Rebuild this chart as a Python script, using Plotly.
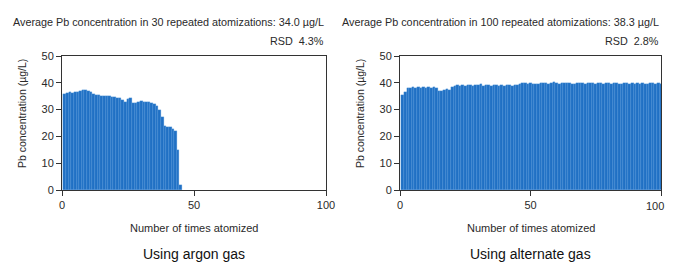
import plotly.graph_objects as go

# ---- data ----
argon_runs = list(range(1, 46))
argon_pb = [36.0, 36.3, 36.5, 36.3, 36.4, 36.5, 37.0, 37.4, 37.3, 36.8,
            36.5, 35.8, 35.6, 35.3, 35.1, 35.0, 35.2, 34.9, 34.8, 34.8,
            34.3, 34.2, 33.5, 33.0, 34.0, 34.2, 32.5, 32.3, 33.0, 33.1,
            33.0, 32.9, 33.0, 32.6, 32.0, 31.5, 29.8, 27.4, 24.0, 23.4,
            23.5, 22.8, 22.0, 15.0, 2.0]

alt_runs = list(range(1, 101))
alt_pb = [35.5, 36.5, 38.0, 38.1, 38.3, 38.0, 38.4, 38.2, 38.5, 38.1,
          38.3, 38.0, 38.4, 38.2, 37.0, 37.1, 37.2, 37.6, 37.5, 38.5,
          38.8, 39.0, 38.7, 39.2, 38.9, 39.0, 39.3, 38.8, 39.1, 39.0,
          39.4, 38.9, 39.2, 39.0, 38.8, 39.1, 39.3, 38.9, 39.0, 38.8,
          39.1, 39.0, 38.7, 39.0, 39.2, 39.6, 39.8, 40.0, 39.7, 39.9,
          39.6, 39.4, 39.7, 39.9, 40.1, 39.8, 39.6, 40.0, 40.2, 39.9,
          39.7, 40.0, 39.8, 39.9, 40.1, 39.7, 39.6, 39.9, 39.8, 40.0,
          39.7, 39.9, 40.1, 39.8, 39.6, 39.9, 40.0, 39.7, 39.8, 39.9,
          39.6, 39.8, 40.0, 39.7, 39.5, 39.8, 39.9, 39.6, 39.8, 39.7,
          39.9, 39.6, 39.8, 39.7, 39.5, 39.8, 39.9, 39.7, 39.8, 39.6]

x_ticks = [0, 50, 100]
x_ticktext = ["0", "50", "100"]
y_ticks = [0, 10, 20, 30, 40, 50]

left_title = "Average Pb concentration in 30 repeated atomizations: 34.0 µg/L"
left_rsd = "RSD  4.3%"
right_title = "Average Pb concentration in 100 repeated atomizations: 38.3 µg/L"
right_rsd = "RSD  2.8%"
x_title = "Number of times atomized"
y_title = "Pb concentration (µg/L)"
left_caption = "Using argon gas"
right_caption = "Using alternate gas"

# ---- layout helpers ----
# the page body has an 8 px margin; positions below are window pixels
OFF = 8
W, H = 674 - OFF, 270 - 2 * OFF
def px(x):
    return (x - OFF) / W
def py(y):
    return 1 - (y - OFF) / H

FONT = "Liberation Sans, Arial, sans-serif"
TXT = "#2a2a2a"
BAR = "#2070c4"
EDGE = "#5c9fe0"

fig = go.Figure()
fig.add_trace(go.Bar(x=argon_runs, y=argon_pb, width=1, xaxis="x", yaxis="y",
                     marker=dict(color=BAR, line=dict(color=EDGE, width=0.3)),
                     showlegend=False))
fig.add_trace(go.Bar(x=alt_runs, y=alt_pb, width=1, xaxis="x2", yaxis="y2",
                     marker=dict(color=BAR, line=dict(color=EDGE, width=0.3)),
                     showlegend=False))

x0L, x1L = 62, 326
x0R, x1R = 400, 661
yT, yB = 56, 190

ax_common = dict(showline=True, linecolor="#333333", linewidth=1, mirror=True,
                 ticks="outside", ticklen=5, tickcolor="#333333", showgrid=False,
                 zeroline=False, automargin=False, ticklabeloverflow="allow",
                 tickfont=dict(family=FONT, size=11, color=TXT))

fig.update_layout(
    width=W, height=H,
    margin=dict(l=0, r=0, t=0, b=0, pad=0, autoexpand=False),
    paper_bgcolor="white", plot_bgcolor="white",
    bargap=0,
    font=dict(family=FONT, size=11, color=TXT),
    xaxis=dict(domain=[px(x0L), px(x1L)], range=[0, 100], tickvals=x_ticks,
               ticktext=x_ticktext, anchor="y", **ax_common),
    yaxis=dict(domain=[py(yB), py(yT)], range=[0, 50], tickvals=y_ticks,
               anchor="x", **ax_common),
    # last label of the right axis is drawn as an annotation so it stays inside the window
    xaxis2=dict(domain=[px(x0R), px(x1R)], range=[0, 100], tickvals=x_ticks,
                ticktext=x_ticktext[:-1] + [""], anchor="y2", **ax_common),
    yaxis2=dict(domain=[py(yB), py(yT)], range=[0, 50], tickvals=y_ticks,
                anchor="x2", **ax_common),
)

def ann(text, x, y, xanchor="center", size=11, angle=0, weight="normal", color=TXT):
    fig.add_annotation(text=text, x=px(x), y=py(y), xref="paper", yref="paper",
                       xanchor=xanchor, yanchor="middle", showarrow=False,
                       textangle=angle,
                       font=dict(family=FONT, size=size, color=color, weight=weight))

ann(left_title, x1L, 22, "right", size=10.8)
ann(left_rsd, x1L, 41, "right", size=10.8)
ann(right_title, x1R, 22, "right", size=10.8)
ann(right_rsd, x1R, 41, "right", size=10.8)
ann(x_ticktext[-1], x1R + 5, 206, "right")
ann(x_title, (x0L + x1L) / 2, 228)
ann(x_title, (x0R + x1R) / 2, 228)
ann(left_caption, (x0L + x1L) / 2, 254, size=14, color="#111111")
ann(right_caption, (x0R + x1R) / 2, 254, size=14, color="#111111")
ann(y_title, 22, 114, size=10.5, angle=-90)
ann(y_title, 360, 114, size=10.5, angle=-90)

fig.write_html("out.html")
